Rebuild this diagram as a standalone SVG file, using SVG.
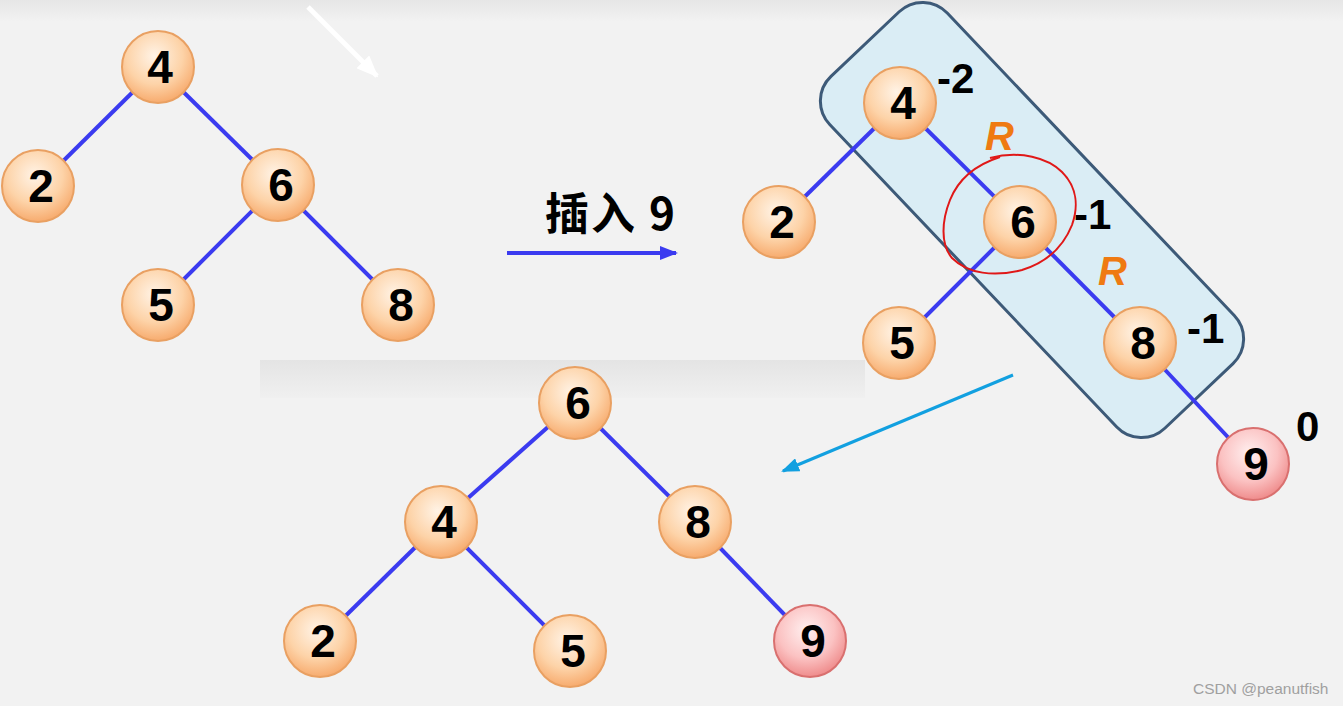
<svg xmlns="http://www.w3.org/2000/svg" width="1343" height="706" viewBox="0 0 1343 706">
<defs>
<radialGradient id="gO" cx="0.45" cy="0.35" r="0.65">
<stop offset="0" stop-color="#fff3e6"/><stop offset="0.6" stop-color="#fdd3a8"/><stop offset="1" stop-color="#f7ab6e"/>
</radialGradient>
<radialGradient id="gP" cx="0.45" cy="0.35" r="0.65">
<stop offset="0" stop-color="#fff0f0"/><stop offset="0.6" stop-color="#fbc2c2"/><stop offset="1" stop-color="#ef8c8c"/>
</radialGradient>
<linearGradient id="band" x1="0" y1="0" x2="0" y2="1">
<stop offset="0" stop-color="#e4e4e4"/><stop offset="1" stop-color="#f0f0f0"/>
</linearGradient>
<linearGradient id="topband" x1="0" y1="0" x2="0" y2="1">
<stop offset="0" stop-color="#e6e6e6"/><stop offset="1" stop-color="#f2f2f2"/>
</linearGradient>
<marker id="mBlue" markerWidth="18" markerHeight="14" refX="16" refY="7" orient="auto" markerUnits="userSpaceOnUse">
<path d="M0,0 L18,7 L0,14 z" fill="#3b3bf0"/>
</marker>
<marker id="mCyan" markerWidth="18" markerHeight="14" refX="16" refY="7" orient="auto" markerUnits="userSpaceOnUse">
<path d="M0,0 L18,7 L0,14 z" fill="#12a0e0"/>
</marker>
<marker id="mWhite" markerWidth="22" markerHeight="18" refX="20" refY="9" orient="auto" markerUnits="userSpaceOnUse">
<path d="M0,0 L22,9 L0,18 z" fill="#ffffff"/>
</marker>
</defs>
<style>
.n{stroke:#e9a062;stroke-width:2;fill:url(#gO)}
.p{stroke:#d9706f;stroke-width:2;fill:url(#gP)}
.t{font-family:"Liberation Sans",Arial,sans-serif;font-weight:bold;font-size:46px;fill:#000;text-anchor:middle}
.e{stroke:#3b3bf0;stroke-width:4;fill:none}
.bf{font-family:"Liberation Sans",Arial,sans-serif;font-weight:bold;font-size:42px;fill:#000}
.r{font-family:"Liberation Sans",Arial,sans-serif;font-weight:bold;font-style:italic;font-size:40px;fill:#ef7a12}
</style>
<rect width="1343" height="706" fill="#f2f2f2"/>
<rect width="1343" height="22" fill="url(#topband)"/>
<rect x="260" y="360" width="605" height="38" fill="url(#band)"/>

<g id="highlight">
<rect x="789.5" y="139" width="485" height="162" rx="34" transform="rotate(46.5 1032 220)" fill="#daedf5" stroke="#3d5a78" stroke-width="3"/>
</g>

<g id="connectors">
<line class="e" x1="158" y1="67" x2="38" y2="186"/>
<line class="e" x1="158" y1="67" x2="278" y2="185"/>
<line class="e" x1="278" y1="185" x2="158" y2="305"/>
<line class="e" x1="278" y1="185" x2="398" y2="305"/>
<line class="e" x1="900" y1="103" x2="779" y2="222"/>
<line class="e" x1="900" y1="103" x2="1020" y2="222"/>
<line class="e" x1="1020" y1="222" x2="899" y2="343"/>
<line class="e" x1="1020" y1="222" x2="1140" y2="343"/>
<line class="e" x1="1140" y1="343" x2="1253" y2="464"/>
<line class="e" x1="575" y1="403" x2="441" y2="522"/>
<line class="e" x1="575" y1="403" x2="695" y2="522"/>
<line class="e" x1="441" y1="522" x2="320" y2="641"/>
<line class="e" x1="441" y1="522" x2="570" y2="651"/>
<line class="e" x1="695" y1="522" x2="810" y2="641"/>
<line x1="507" y1="253" x2="676" y2="253" stroke="#3b3bf0" stroke-width="4" marker-end="url(#mBlue)"/>
<line x1="1013" y1="375" x2="783" y2="471" stroke="#12a0e0" stroke-width="3" marker-end="url(#mCyan)"/>
<line x1="308" y1="7" x2="377" y2="76" stroke="#ffffff" stroke-width="5" marker-end="url(#mWhite)"/>
</g>

<g id="L4"><circle class="n" cx="158" cy="67" r="36"/><text class="t" x="160" y="83">4</text></g>
<g id="L2"><circle class="n" cx="38" cy="186" r="36"/><text class="t" x="41" y="202">2</text></g>
<g id="L6"><circle class="n" cx="278" cy="185" r="36"/><text class="t" x="281" y="201">6</text></g>
<g id="L5"><circle class="n" cx="158" cy="305" r="36"/><text class="t" x="161" y="321">5</text></g>
<g id="L8"><circle class="n" cx="398" cy="305" r="36"/><text class="t" x="401" y="321">8</text></g>

<g id="R4"><circle class="n" cx="900" cy="103" r="36"/><text class="t" x="903" y="119">4</text></g>
<g id="R2"><circle class="n" cx="779" cy="222" r="36"/><text class="t" x="782" y="238">2</text></g>
<g id="R6"><circle class="n" cx="1020" cy="222" r="36"/><text class="t" x="1023" y="238">6</text></g>
<g id="R5"><circle class="n" cx="899" cy="343" r="36"/><text class="t" x="902" y="359">5</text></g>
<g id="R8"><circle class="n" cx="1140" cy="343" r="36"/><text class="t" x="1143" y="359">8</text></g>
<g id="R9"><circle class="p" cx="1253" cy="464" r="36"/><text class="t" x="1256" y="480">9</text></g>

<g id="B6"><circle class="n" cx="575" cy="403" r="36"/><text class="t" x="578" y="419">6</text></g>
<g id="B4"><circle class="n" cx="441" cy="522" r="36"/><text class="t" x="444" y="538">4</text></g>
<g id="B8"><circle class="n" cx="695" cy="522" r="36"/><text class="t" x="698" y="538">8</text></g>
<g id="B2"><circle class="n" cx="320" cy="641" r="36"/><text class="t" x="323" y="657">2</text></g>
<g id="B5"><circle class="n" cx="570" cy="651" r="36"/><text class="t" x="573" y="667">5</text></g>
<g id="B9"><circle class="p" cx="810" cy="641" r="36"/><text class="t" x="813" y="657">9</text></g>

<g id="labels">
<text x="545" y="230" font-family="'Noto Sans CJK SC',sans-serif" font-weight="bold" font-size="44" fill="#000" letter-spacing="2">插入 9</text>
<text class="bf" x="937" y="93">-2</text>
<text class="bf" x="1074" y="229">-1</text>
<text class="bf" x="1187" y="343">-1</text>
<text class="bf" x="1296" y="441">0</text>
<text class="r" x="985" y="150">R</text>
<text class="r" x="1098" y="285">R</text>
<text x="1193" y="694" font-family="'Liberation Sans',Arial,sans-serif" font-size="15.5" fill="#a0a0a0">CSDN @peanutfish</text>
</g>

<g id="mark">
<path d="M990,158 C1020,150 1048,158 1062,172 C1078,188 1078,208 1072,225 C1064,245 1048,262 1022,270 C994,277 968,274 952,258 C940,244 942,220 950,200 C958,180 975,165 1000,157" fill="none" stroke="#e01818" stroke-width="2"/>
</g>
</svg>
